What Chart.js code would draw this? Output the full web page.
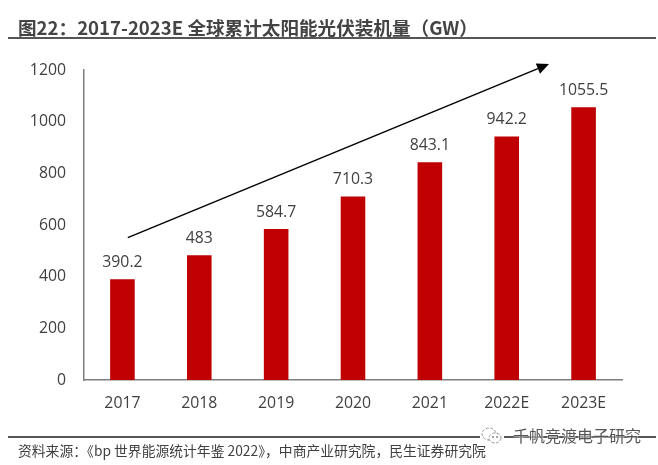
<!DOCTYPE html>
<html><head><meta charset="utf-8">
<style>html,body{margin:0;padding:0;background:#fff;overflow:hidden}
#w{position:relative;width:658px;height:465px}
canvas{position:absolute;left:0;top:0}
.t{position:absolute;white-space:nowrap;font-family:"Noto Sans CJK SC","Noto Sans",sans-serif}
#title{left:18px;top:15px;font-size:18.6px;font-weight:700;color:#444;line-height:24px}
#src{left:18px;top:440px;font-size:13.8px;color:#404040;line-height:20px}
#wm{left:513px;top:425px;font-size:16px;color:#555;line-height:20px;text-shadow:0 0 2px #fff,0 0 2px #fff}
.r{position:absolute}
svg{position:absolute;left:480px;top:426px}
</style></head><body><div id="w">
<canvas id="c" width="658" height="465"></canvas>
<div class="t" id="title">图22：2017-2023E 全球累计太阳能光伏装机量（GW）</div>
<div class="r" style="left:8px;top:37px;width:648px;height:2px;background:#555"></div>
<div class="r" style="left:8px;top:436px;width:648px;height:2px;background:#555"></div>
<div class="t" id="src">资料来源：《bp 世界能源统计年鉴 2022》，中商产业研究院，民生证券研究院</div>
<svg width="24" height="20" viewBox="0 0 24 20"><rect x="0" y="0" width="24" height="20" fill="#fff"/><ellipse cx="9" cy="8" rx="7" ry="6" fill="#fff" stroke="#999" stroke-width="1" stroke-dasharray="3 1.5"/><ellipse cx="15" cy="12" rx="6" ry="5" fill="#fff" stroke="#999" stroke-width="1" stroke-dasharray="3 1.5"/><circle cx="13" cy="11" r="0.9" fill="#777"/><circle cx="17" cy="11" r="0.9" fill="#777"/></svg>
<div class="t" id="wm">千帆竞渡电子研究</div>
</div>
<script src="https://cdn.jsdelivr.net/npm/chart.js@4"></script>
<script>
const categories=["2017","2018","2019","2020","2021","2022E","2023E"];
const values=[390.2,483,584.7,710.3,843.1,942.2,1055.5];
const valueLabels=["390.2","483","584.7","710.3","843.1","942.2","1055.5"];
const yTicks=[0,200,400,600,800,1000,1200];
const arrowFrom=[0.07,551];
const arrowTo=[5.55,1223];
const font={family:'"Open Sans","Noto Sans",sans-serif',size:15.8};
const labelColor='#404040';
const overlay={id:'overlay',afterDatasetsDraw(ch){
 const {ctx,scales:{x,y}}=ch;
 ctx.save();
 ctx.font=font.size+'px '+font.family;ctx.fillStyle=labelColor;ctx.textAlign='center';ctx.textBaseline='bottom';
 values.forEach((v,i)=>ctx.fillText(valueLabels[i],x.getPixelForValue(i),y.getPixelForValue(v)-9));
 const x0=x.getPixelForValue(arrowFrom[0]),y0=y.getPixelForValue(arrowFrom[1]);
 const x1=x.getPixelForValue(arrowTo[0]),y1=y.getPixelForValue(arrowTo[1]);
 const a=Math.atan2(y1-y0,x1-x0),L=12,W=5.5;
 const bx=x1-L*Math.cos(a),by=y1-L*Math.sin(a);
 ctx.strokeStyle='#000';ctx.lineWidth=1.5;ctx.beginPath();ctx.moveTo(x0,y0);ctx.lineTo(bx,by);ctx.stroke();
 ctx.fillStyle='#000';ctx.beginPath();ctx.moveTo(x1,y1);
 ctx.lineTo(bx-W*Math.sin(a),by+W*Math.cos(a));ctx.lineTo(bx+W*Math.sin(a),by-W*Math.cos(a));ctx.closePath();ctx.fill();
 ctx.restore();
}};
new Chart(document.getElementById('c'),{type:'bar',
 data:{labels:categories,datasets:[{data:values,backgroundColor:'#C00000',barPercentage:0.32,categoryPercentage:1}]},
 options:{responsive:false,animation:false,
  layout:{padding:{left:0,right:36,top:70,bottom:38}},
  plugins:{legend:{display:false},tooltip:{enabled:false}},
  scales:{
   x:{grid:{display:false,drawTicks:false},border:{color:'#7f7f7f',width:1.5},ticks:{font,color:labelColor,padding:14,maxRotation:0}},
   y:{min:0,max:1200,afterBuildTicks(s){s.ticks=yTicks.map(v=>({value:v}))},afterFit(s){s.width=84},grid:{display:false,drawTicks:false},border:{color:'#7f7f7f',width:1.5},ticks:{font,color:labelColor,padding:18,callback:v=>String(v)}}
  }},plugins:[overlay]});
</script></body></html>
